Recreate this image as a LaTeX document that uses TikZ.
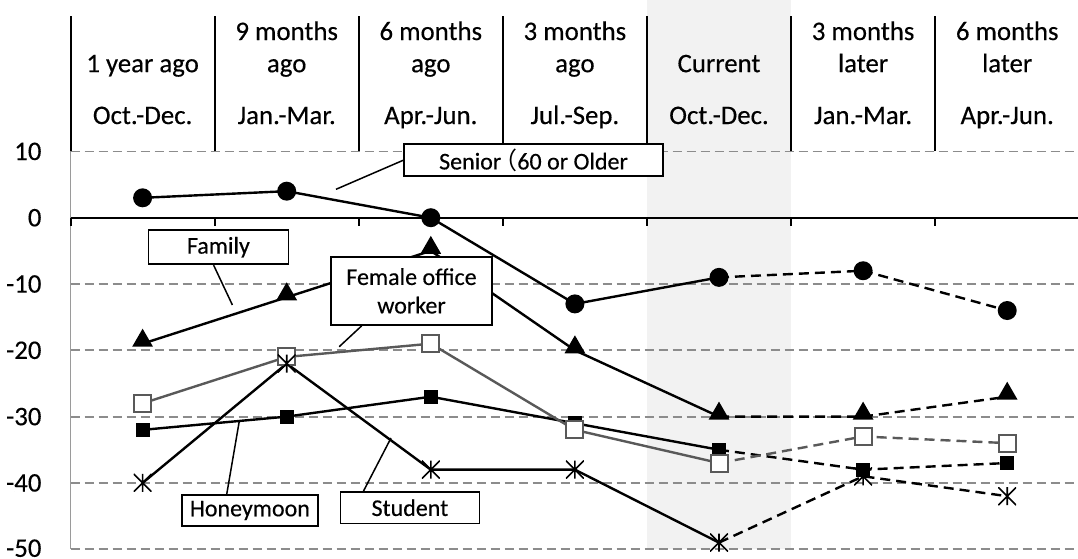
\documentclass[tikz,border=0pt]{standalone}
\usepackage{fontspec}
\setmainfont{Carlito}[FakeBold=0.35]
\newfontfamily\cjkfont{Noto Sans CJK JP}
\usetikzlibrary{shapes.geometric}
\definecolor{bandc}{HTML}{F2F2F2}
\definecolor{gridc}{HTML}{8C8C8C}
\definecolor{axisc}{HTML}{9A9A9A}
\definecolor{femc}{HTML}{595959}
\begin{document}
\begin{tikzpicture}[x=1pt,y=-1pt,
  every node/.style={font=\fontsize{26.8}{30}\selectfont},
  gridline/.style={gridc, line width=1.8pt, dash pattern=on 9pt off 5pt},
  hdrline/.style={black, line width=2pt},
  series/.style={line width=2.4pt, line join=round},
  future/.style={series, dash pattern=on 10pt off 6pt},
  callout/.style={draw, line width=1.8pt, fill=white, font=\fontsize{24}{28.5}\selectfont, align=center, inner sep=0pt},
  leader/.style={line width=1.5pt},
  hdr/.style={anchor=base},
  ylab/.style={anchor=east},
  dotm/.style={circle, fill=black, inner sep=0pt, minimum size=19pt},
  trim/.style={regular polygon, regular polygon sides=3, fill=black, inner sep=0pt, minimum size=24pt, yshift=3pt},
  sqm/.style={rectangle, fill=black, inner sep=0pt, minimum size=14pt},
  osqm/.style={rectangle, draw=femc, line width=2pt, fill=white, inner sep=0pt, minimum size=17pt},
  starm/.style={rectangle, inner sep=0pt, minimum size=18pt,
    path picture={\draw[line width=1.6pt]
      (path picture bounding box.north) -- (path picture bounding box.south)
      (path picture bounding box.north west) -- (path picture bounding box.south east)
      (path picture bounding box.south west) -- (path picture bounding box.north east);}}
]
\useasboundingbox (0,0) rectangle (1078,558);

\begin{scope}[shift={(142.6,217.7)}, x=144.1pt, y=6.63pt]
  % shaded current column
  \fill[bandc] (3.5,-50) rectangle (4.5,32.84);
  % grid lines
  \foreach \v in {10,-10,-20,-30,-40,-50} \draw[gridline] (-0.5,\v) -- (6.5,\v);
  % axes
  \draw[axisc, line width=1.8pt] (-0.5,10) -- (-0.5,-50);
  \draw[black, line width=2pt] (-0.5,0) -- (6.5,0);
  \foreach \i in {-0.5,0.5,...,5.5} \draw[line width=2pt] (\i,0) -- (\i,-1.2);
  % header separators
  \foreach \i in {-0.5,0.5,...,5.5} \draw[hdrline] (\i,10) -- (\i,30.42);

  % header texts
  \node[hdr] (h0b) at (0,21.95) {1 year ago};
  \node[hdr] (h0c) at (0,14.13) {Oct.-Dec.};
  \node[hdr] (h1a) at (1,26.8) {9 months};
  \node[hdr] (h1b) at (1,21.95) {ago};
  \node[hdr] (h1c) at (1,14.13) {Jan.-Mar.};
  \node[hdr] (h2a) at (2,26.8) {6 months};
  \node[hdr] (h2b) at (2,21.95) {ago};
  \node[hdr] (h2c) at (2,14.13) {Apr.-Jun.};
  \node[hdr] (h3a) at (3,26.8) {3 months};
  \node[hdr] (h3b) at (3,21.95) {ago};
  \node[hdr] (h3c) at (3,14.13) {Jul.-Sep.};
  \node[hdr] (h4b) at (4,21.95) {Current};
  \node[hdr] (h4c) at (4,14.13) {Oct.-Dec.};
  \node[hdr] (h5a) at (5,26.8) {3 months};
  \node[hdr] (h5b) at (5,21.95) {later};
  \node[hdr] (h5c) at (5,14.13) {Jan.-Mar.};
  \node[hdr] (h6a) at (6,26.8) {6 months};
  \node[hdr] (h6b) at (6,21.95) {later};
  \node[hdr] (h6c) at (6,14.13) {Apr.-Jun.};

  % data points
  \coordinate (s0) at (0,3);   \coordinate (s1) at (1,4);   \coordinate (s2) at (2,0);
  \coordinate (s3) at (3,-13); \coordinate (s4) at (4,-9);  \coordinate (s5) at (5,-8);
  \coordinate (s6) at (6,-14);
  \coordinate (f0) at (0,-19); \coordinate (f1) at (1,-12); \coordinate (f2) at (2,-5);
  \coordinate (f3) at (3,-20); \coordinate (f4) at (4,-30); \coordinate (f5) at (5,-30);
  \coordinate (f6) at (6,-27);
  \coordinate (w0) at (0,-28); \coordinate (w1) at (1,-21); \coordinate (w2) at (2,-19);
  \coordinate (w3) at (3,-32); \coordinate (w4) at (4,-37); \coordinate (w5) at (5,-33);
  \coordinate (w6) at (6,-34);
  \coordinate (n0) at (0,-32); \coordinate (n1) at (1,-30); \coordinate (n2) at (2,-27);
  \coordinate (n3) at (3,-31); \coordinate (n4) at (4,-35); \coordinate (n5) at (5,-38);
  \coordinate (n6) at (6,-37);
  \coordinate (t0) at (0,-40); \coordinate (t1) at (1,-22); \coordinate (t2) at (2,-38);
  \coordinate (t3) at (3,-38); \coordinate (t4) at (4,-49); \coordinate (t5) at (5,-39);
  \coordinate (t6) at (6,-42);
\end{scope}

% y-axis labels
\node[ylab] (y10) at (45,151.4) {10};
\node[ylab] (y0) at (45,217.7) {0};
\node[ylab] (ym10) at (45,284.0) {-10};
\node[ylab] (ym20) at (45,350.3) {-20};
\node[ylab] (ym30) at (45,416.6) {-30};
\node[ylab] (ym40) at (45,482.9) {-40};
\node[ylab] (ym50) at (45,548.2) {-50};

% series lines
\draw[series] (s0) -- (s1) -- (s2) -- (s3) -- (s4);
\draw[future] (s4) -- (s5) -- (s6);
\draw[series] (n0) -- (n1) -- (n2) -- (n3) -- (n4);
\draw[future] (n4) -- (n5) -- (n6);
\draw[series, femc] (w0) -- (w1) -- (w2) -- (w3) -- (w4);
\draw[future, femc] (w4) -- (w5) -- (w6);
\draw[series] (f0) -- (f1) -- (f2) -- (f3) -- (f4);
\draw[future] (f4) -- (f5) -- (f6);
\draw[series] (t0) -- (t1) -- (t2) -- (t3) -- (t4);
\draw[future] (t4) -- (t5) -- (t6);

% markers
\foreach \p in {s0,s1,s2,s3,s4,s5,s6} \node[dotm] (m\p) at (\p) {};
\foreach \p in {n0,n1,n2,n3,n4,n5,n6} \node[sqm] (m\p) at (\p) {};
\foreach \p in {w0,w1,w2,w3,w4,w5,w6} \node[osqm] (m\p) at (\p) {};
\foreach \p in {f0,f1,f2,f3,f4,f5,f6} \node[trim] (m\p) at (\p) {};
\foreach \p in {t0,t1,t2,t3,t4,t5,t6} \node[starm] (m\p) at (\p) {};

% callout boxes
\node[callout, minimum width=259pt, minimum height=32pt] (senbox) at (533.5,160.3)
  {Senior\kern-0.33em{\cjkfont （}60 or Older};
\node[callout, minimum width=140pt, minimum height=34pt] (fambox) at (218.4,247.2) {Family};
\node[callout, minimum width=161pt, minimum height=68pt] (fembox) at (411.5,290.9) {Female office\\worker};
\node[callout, minimum width=136.5pt, minimum height=31pt] (honbox) at (249.9,510.5) {Honeymoon};
\node[callout, minimum width=139pt, minimum height=31.5pt] (stubox) at (409.9,507.7) {Student};

% leader lines
\coordinate (senend) at (336,189.3);
\coordinate (famend) at (232.4,305);
\coordinate (femend) at (339.2,346.7);
\coordinate (honend) at (239.3,421);
\coordinate (stuend) at (391,438);
\draw[leader] (senbox.west) -- (senend);
\draw[leader] ([xshift=-4.8pt]fambox.south) -- (famend);
\draw[leader] ([xshift=31.6pt]fembox.south west) -- (femend);
\draw[leader] ([xshift=46pt]honbox.north west) -- (honend);
\draw[leader] ([xshift=24pt]stubox.north west) -- (stuend);
\end{tikzpicture}
\end{document}
